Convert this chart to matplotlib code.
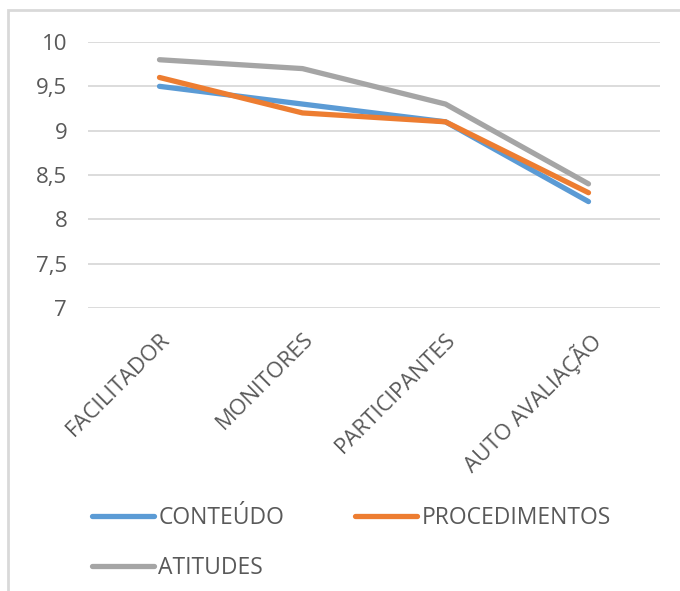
import matplotlib.pyplot as plt
from matplotlib.patches import Rectangle

plt.rcParams['font.family'] = ['Open Sans', 'DejaVu Sans']

# Data
categories = ['FACILITADOR', 'MONITORES', 'PARTICIPANTES', 'AUTO AVALIAÇÃO']
conteudo = [9.5, 9.3, 9.1, 8.2]
procedimentos = [9.6, 9.2, 9.1, 8.3]
atitudes = [9.8, 9.7, 9.3, 8.4]
yticks = [7, 7.5, 8, 8.5, 9, 9.5, 10]
ytick_labels = ['7', '7,5', '8', '8,5', '9', '9,5', '10']

text_color = '#595959'
grid_color = '#D9D9D9'

fig = plt.figure(figsize=(6.8, 5.91), dpi=100)
ax = fig.add_axes([88 / 680, 1 - 308 / 591, 572 / 680, 266 / 591])

x = range(len(categories))
l1, = ax.plot(x, conteudo, color='#5B9BD5', lw=3.8, label='CONTEÚDO', solid_capstyle='round')
l2, = ax.plot(x, procedimentos, color='#ED7D31', lw=3.8, label='PROCEDIMENTOS', solid_capstyle='round')
l3, = ax.plot(x, atitudes, color='#A5A5A5', lw=3.8, label='ATITUDES', solid_capstyle='round')

ax.set_xlim(-0.5, len(categories) - 0.5)
ax.set_ylim(7, 10)
ax.set_yticks(yticks)
ax.set_yticklabels(ytick_labels)
ax.set_xticks(list(x))
ax.set_xticklabels(categories, rotation=45, ha='right', va='top', rotation_mode='anchor')

ax.grid(axis='y', color=grid_color, lw=1.3)
ax.set_axisbelow(True)
for s in ax.spines.values():
    s.set_visible(False)
ax.tick_params(axis='both', length=0, labelsize=16, colors=text_color)
ax.tick_params(axis='y', pad=15)
ax.tick_params(axis='x', pad=15)

# order so that rows read CONTEÚDO, PROCEDIMENTOS / ATITUDES
leg = fig.legend([l1, l3, l2], ['CONTEÚDO', 'ATITUDES', 'PROCEDIMENTOS'],
                 loc='upper left', bbox_to_anchor=(92 / 680, 1 - 506 / 591), ncol=2,
                 frameon=False, fontsize=16.5, handlelength=2.7, handletextpad=0.2,
                 columnspacing=3.1, labelspacing=1.15, borderaxespad=0, borderpad=0)
for t in leg.get_texts():
    t.set_color(text_color)

# chart border
fig.patches.append(Rectangle((8 / 680, -0.1), 1.0, 1 - 10 / 591 + 0.1, transform=fig.transFigure,
                             fill=False, edgecolor=grid_color, lw=2))

fig.savefig('out.png', dpi=100)
